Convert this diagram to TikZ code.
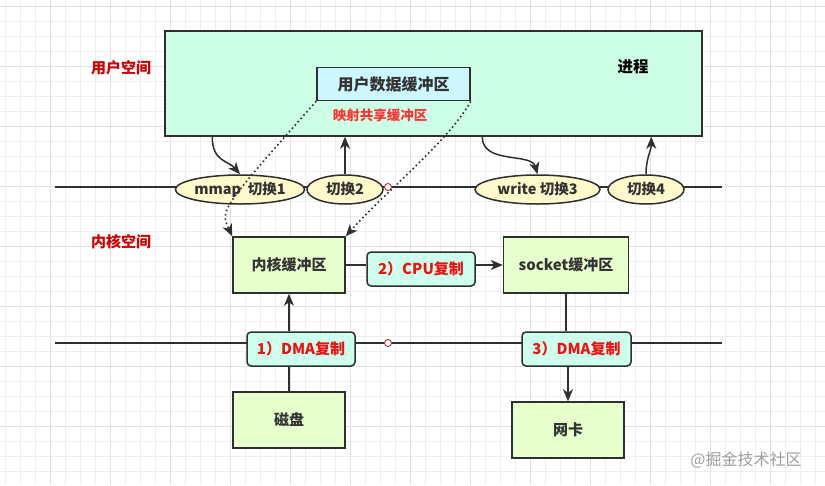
\documentclass[tikz,border=0pt]{standalone}
\usepackage{fontspec}
\setmainfont{Noto Sans CJK SC}
\usetikzlibrary{arrows.meta,shapes.geometric}
\definecolor{linec}{HTML}{2F2F2F}
\definecolor{txt}{HTML}{333333}
\definecolor{pfill}{HTML}{CCFFE6}
\definecolor{ufill}{HTML}{CCF7FF}
\definecolor{kfill}{HTML}{E6FFCC}
\definecolor{lfill}{HTML}{CCFFEC}
\definecolor{efill}{HTML}{FFFACC}
\definecolor{dred}{HTML}{CC0000}
\definecolor{lred}{HTML}{EE1111}
\definecolor{mred}{HTML}{FF3333}
\definecolor{gminor}{HTML}{EEEEEE}
\definecolor{gmajor}{HTML}{E0E0E0}
\definecolor{ring}{HTML}{B03040}
\tikzset{
  obj/.style={draw=linec,line width=1.5pt,inner sep=0pt,text=txt,
    font=\fontsize{15}{17}\selectfont\bfseries},
  kbox/.style={obj,fill=kfill,minimum width=112pt,minimum height=56pt},
  lbl/.style={obj,rounded corners=4pt,fill=lfill,text=lred,minimum height=34pt},
  sw/.style={obj,ellipse,fill=efill,minimum height=29pt,
    font=\fontsize{14.5}{17}\selectfont\bfseries},
  conn/.style={draw=linec,line width=1.5pt},
  arr/.style={conn,-{Stealth[length=12pt,width=10pt,inset=3.5pt]}},
  dots/.style={draw=linec,line width=1.6pt,dash pattern=on 1.6pt off 2.8pt,
    -{Stealth[length=12pt,width=10pt,inset=3.5pt]}},
  ringdot/.style={circle,draw=ring,fill=white,line width=0.9pt,minimum size=7pt,inner sep=0pt},
  zone/.style={text=dred,font=\fontsize{15}{17}\selectfont\bfseries},
}
\begin{document}
\begin{tikzpicture}[x=1pt,y=-1pt]
\useasboundingbox (0,0) rectangle (825,485);
\fill[white] (0,0) rectangle (825,485);
% grid
\foreach \x in {5,20,...,825} \draw[gminor,line width=0.6pt] (\x,0) -- (\x,485);
\foreach \i in {0,...,32} \draw[gminor,line width=0.6pt] (0,6.67+15*\i) -- (825,6.67+15*\i);
\foreach \x in {50,110,...,825} \draw[gmajor,line width=0.7pt] (\x,0) -- (\x,485);
\foreach \i in {0,...,8} \draw[gmajor,line width=0.7pt] (0,6.67+60*\i) -- (825,6.67+60*\i);

% zone labels
\node[zone] (uspace) at (121,68) {用户空间};
\node[zone] (kspace) at (121,242) {内核空间};

% process box
\node[obj,fill=pfill,minimum width=537pt,minimum height=105pt] (proc) at (433.5,83.5) {};
\node[obj,draw=none,font=\fontsize{15.5}{17}\selectfont\bfseries,text=black] (proctxt) at (633,67) {进程};
\node[obj,fill=ufill,minimum width=153pt,minimum height=33pt,
  font=\fontsize{16}{18}\selectfont\bfseries] (user) at (393.5,84) {用户数据缓冲区};
\node[text=mred,font=\fontsize{13.5}{16}\selectfont\bfseries] (maptxt) at (380,115) {映射共享缓冲区};

% line 1
\coordinate (l1a) at (55,187);
\coordinate (l1b) at (722,187);
\draw[conn] (l1a) -- (l1b);
\node[sw,minimum width=124pt] (e1) at (240,189.5) {mmap\ \ 切换1};
\node[sw,minimum width=76pt] (e2) at (345,189.5) {切换2};
\node[sw,minimum width=125pt] (e3) at (537.5,189.5) {write 切换3};
\node[sw,minimum width=76pt] (e4) at (646,189.5) {切换4};
\node[ringdot] (r1) at (388,187) {};

% kernel space boxes
\node[kbox] (kern) at (289,265) {内核缓冲区};
\node[kbox,minimum width=125pt] (sock) at (566,265) {socket缓冲区};
\node[lbl,minimum width=108pt] (cpu) at (421,269) {2）CPU复制};

% line 2
\coordinate (l2a) at (55,343);
\coordinate (l2b) at (722,343);
\draw[conn] (l2a) -- (l2b);
\node[ringdot] (r2) at (388,343) {};
\node[lbl,minimum width=108pt] (dma1) at (301,349) {1）DMA复制};
\node[lbl,minimum width=109pt] (dma3) at (576.5,349) {3）DMA复制};

\node[kbox] (disk) at (289,420) {磁盘};
\node[kbox] (nic) at (568,430) {网卡};

% connectors
\draw[arr] ([xshift=48pt]proc.south west) .. controls +(0,25) and +(-12,-14) .. (e1.north);
\draw[arr] (e2.north) -- (e2.north |- proc.south);
\draw[arr] ([xshift=318pt]proc.south west) .. controls +(0,28) and +(-6,-22) .. (e3.north);
\draw[arr] (e4.north) .. controls +(0,-16) and +(0,14) .. ([xshift=487pt]proc.south west);

\draw[dots] (user.south west) .. controls (220,210) .. (kern.north west);
\draw[dots] (user.south east) .. controls +(-22,40) and +(40,-45) .. (kern.north east);

\draw[conn] (kern.east) -- (kern.east -| cpu.west);
\draw[arr] (kern.east -| cpu.east) -- (sock.west);
\draw[conn] (disk.north) -- (disk.north |- dma1.south);
\draw[arr] (disk.north |- dma1.north) -- (kern.south);
\draw[conn] (sock.south) -- (sock.south |- dma3.north);
\draw[arr] (nic.north |- dma3.south) -- (nic.north);

% watermark
\node[text=black!38,font=\fontsize{16}{18}\selectfont] (wm) at (746,460) {@掘金技术社区};
\end{tikzpicture}
\end{document}
